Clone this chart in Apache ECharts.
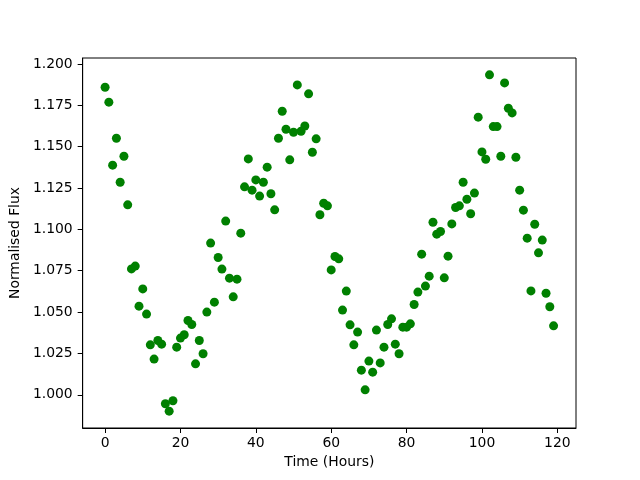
<!DOCTYPE html>
<html>
<head>
<meta charset="utf-8">
<script src="https://cdn.jsdelivr.net/npm/echarts@6/dist/echarts.min.js"></script>
<style>html,body{margin:0;padding:0;background:#fff}#c{width:640px;height:480px}</style>
</head>
<body>
<div id="c"></div>
<script>
const timeHours = [];
for (let i = 0; i < 120; i++) timeHours.push(i);
const flux = [
 1.1859,1.1769,1.1388,1.1551,1.1285,1.1442,1.1148,1.0761,1.0778,1.0536,
 1.0640,1.0488,1.0302,1.0216,1.0328,1.0306,0.9946,0.9901,0.9964,1.0288,
 1.0343,1.0363,1.0449,1.0425,1.0187,1.0328,1.0248,1.0500,1.0917,1.0560,
 1.0830,1.0760,1.1050,1.0705,1.0592,1.0699,1.0977,1.1257,1.1426,1.1237,
 1.1299,1.1201,1.1285,1.1376,1.1215,1.1118,1.1551,1.1714,1.1605,1.1420,
 1.1587,1.1873,1.1593,1.1625,1.1819,1.1466,1.1547,1.1088,1.1158,1.1142,
 1.0755,1.0836,1.0822,1.0512,1.0627,1.0423,1.0302,1.0379,1.0149,1.0030,
 1.0204,1.0137,1.0391,1.0193,1.0288,1.0425,1.0459,1.0306,1.0248,1.0409,
 1.0409,1.0429,1.0546,1.0621,1.0850,1.0657,1.0717,1.1043,1.0971,1.0987,
 1.0707,1.0838,1.1033,1.1132,1.1142,1.1285,1.1182,1.1094,1.1219,1.1678,
 1.1468,1.1424,1.1934,1.1621,1.1621,1.1442,1.1885,1.1732,1.1704,1.1436,
 1.1237,1.1116,1.0947,1.0628,1.1031,1.0858,1.0935,1.0614,1.0532,1.0417
];
const xTicks = [0,20,40,60,80,100,120];
const yTicks = [1.000,1.025,1.050,1.075,1.100,1.125,1.150,1.175,1.200];

const pts = timeHours.map((t,i)=>[t, flux[i]]);
const font = 'DejaVu Sans';
const chart = echarts.init(document.getElementById('c'), null, {renderer:'canvas'});
chart.setOption({
  animation:false,
  backgroundColor:'#fff',
  grid:{left:80, top:58, width:496, height:370, show:true, borderColor:'#000', borderWidth:1, backgroundColor:'transparent'},
  xAxis:{
    type:'value', min:-5.95, max:124.95,
    name:'Time (Hours)', nameLocation:'middle', nameGap:27,
    nameTextStyle:{fontFamily:font, fontSize:13.9, color:'#000'},
    axisLine:{show:true, onZero:false, lineStyle:{color:'#000', width:1}},
    axisTick:{show:true, length:5, lineStyle:{color:'#000', width:1}, customValues:xTicks},
    axisLabel:{fontFamily:font, fontSize:13.9, color:'#000', margin:8, customValues:xTicks, formatter:v=>String(v)},
    splitLine:{show:false}
  },
  yAxis:{
    type:'value', min:0.97994, max:1.20357,
    name:'Normalised Flux', nameLocation:'middle', nameGap:53, nameRotate:90,
    nameTextStyle:{fontFamily:font, fontSize:13.9, color:'#000'},
    axisLine:{show:true, onZero:false, lineStyle:{color:'#000', width:1}},
    axisTick:{show:true, length:5, lineStyle:{color:'#000', width:1}, customValues:yTicks},
    axisLabel:{fontFamily:font, fontSize:13.9, color:'#000', margin:10, customValues:yTicks, formatter:v=>v.toFixed(3)},
    splitLine:{show:false}
  },
  series:[{
    type:'scatter', data:pts, symbol:'circle', symbolSize:9,
    itemStyle:{color:'#008000', opacity:1}
  }]
});
</script>
</body>
</html>
